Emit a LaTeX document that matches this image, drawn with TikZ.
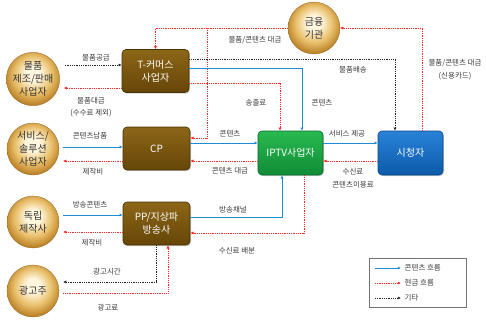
\documentclass[tikz,border=0pt]{standalone}
\usepackage{fontspec}
\setmainfont{Noto Sans CJK KR}
\usetikzlibrary{arrows.meta,shadows}
\definecolor{gin}{RGB}{255,246,222}
\definecolor{gmid}{RGB}{232,190,105}
\definecolor{gout}{RGB}{186,128,38}
\definecolor{grim}{RGB}{165,112,30}
\definecolor{brtop}{RGB}{140,102,24}
\definecolor{brbot}{RGB}{102,70,8}
\definecolor{brline}{RGB}{70,48,5}
\definecolor{grtop}{RGB}{40,185,80}
\definecolor{grbot}{RGB}{16,140,55}
\definecolor{grline}{RGB}{10,100,40}
\definecolor{bltop}{RGB}{40,130,215}
\definecolor{blbot}{RGB}{12,90,170}
\definecolor{blline}{RGB}{10,70,140}
\definecolor{cblue}{RGB}{30,140,210}
\definecolor{ltext}{RGB}{60,60,60}
\pgfdeclareradialshading{goldball}{\pgfpoint{0bp}{6bp}}{color(0bp)=(gin); color(7bp)=(gin); color(18bp)=(gmid); color(27bp)=(gout); color(31bp)=(grim); color(50bp)=(grim)}
\tikzset{
  ball/.style={circle, minimum size=#1, inner sep=0pt, shading=goldball, draw=gout!80!black, line width=0.3pt,
    text=black!80, align=center, font=\fontsize{10}{13}\selectfont},
  ball/.default=52pt,
  boxbase/.style={rectangle, rounded corners=4pt, minimum width=67pt, minimum height=43pt, text=white,
    align=center, font=\fontsize{10}{13}\selectfont, line width=0.6pt,
    drop shadow={opacity=0.35, shadow xshift=1pt, shadow yshift=-1.2pt}},
  brownbox/.style={boxbase, top color=brtop, bottom color=brbot, draw=brline},
  greenbox/.style={boxbase, minimum width=65pt, minimum height=44pt, top color=grtop, bottom color=grbot, draw=grline},
  bluebox/.style={boxbase, minimum width=65pt, minimum height=44pt, top color=bltop, bottom color=blbot, draw=blline},
  tip/.style={-{Latex[length=3.2pt,width=3.2pt]}},
  cash/.style={tip, draw=red!85!white, densely dotted, line width=0.8pt},
  cont/.style={tip, draw=cblue, line width=0.8pt},
  oth/.style={tip, draw=black!85, densely dotted, line width=0.8pt},
  lbl/.style={font=\fontsize{7.5}{9}\selectfont, text=ltext, inner sep=0.5pt, align=center},
}
\begin{document}
\begin{tikzpicture}[x=1pt,y=-1pt]
\useasboundingbox[fill=white] (0,0) rectangle (486,321);

% circles
\node[ball] (m) at (33,79) {물품\\제조/판매\\사업자};
\node[ball] (s) at (33,149) {서비스/\\솔루션\\사업자};
\node[ball] (d) at (33,222) {독립\\제작사};
\node[ball] (ad) at (33,291) {광고주};
\node[ball=52pt] (fin) at (314,28) {금융\\기관};

% boxes
\node[brownbox] (T) at (155.5,71) {T-커머스\\사업자};
\node[brownbox] (CP) at (156.5,148.5) {CP};
\node[brownbox] (PP) at (156.5,223.5) {PP/지상파\\방송사};
\node[greenbox] (I) at (290.5,153) {IPTV사업자};
\node[bluebox] (V) at (410.5,153) {시청자};

% left side flows
\draw[oth]  ([xshift=5pt]m.east |- 0,65) -- (T.west |- 0,65);
\draw[cash] (T.west |- 0,88) -- ([xshift=4pt]m.east |- 0,88);
\node[lbl] (l1) at (96,58) {물품공급};
\node[lbl] (l2) at (91,101) {물품대금};
\node[lbl] (l3) at (91,113) {(수수료 제외)};

\draw[cont] ([xshift=4pt]s.east |- 0,147) -- (CP.west |- 0,147);
\draw[cash] (CP.west |- 0,161) -- ([xshift=4pt]s.east |- 0,161);
\node[lbl] (l4) at (90,136) {콘텐츠납품};
\node[lbl] (l5) at (93,172) {제작비};

\draw[cont] ([xshift=4pt]d.east |- 0,215) -- (PP.west |- 0,215);
\draw[cash] (PP.west |- 0,232) -- ([xshift=4pt]d.east |- 0,232);
\node[lbl] (l6) at (90,205) {방송콘텐츠};
\node[lbl] (l7) at (92,243) {제작비};

\draw[oth]  ([xshift=-0.5pt]PP.south) |- ([xshift=4pt]ad.east |- 0,282);
\draw[cash] ([xshift=4pt]ad.east |- 0,293) -| ([xshift=11.5pt]PP.south);
\node[lbl] (l8) at (107,272) {광고시간};
\node[lbl] (l9) at (108,308) {광고료};

% top flows
\coordinate (br) at (207,28);
\draw[cash] (fin.west) -| (T.north);
\draw[cash] (br) |- (CP.east |- 0,138);
\node[lbl] (l10) at (255,40) {물품/콘텐츠 대금};

\draw[oth]  (T.east |- 0,59) -| ([xshift=-15.5pt]V.north);
\draw[cont] (T.east |- 0,68) -| ([xshift=11.5pt]I.north);
\draw[cash] (T.east |- 0,83) -| ([xshift=-10.5pt]I.north);
\node[lbl] (l11) at (353,70) {물품배송};
\node[lbl] (l12) at (322,103) {콘텐츠};
\node[lbl] (l13) at (256,103) {송출료};

\draw[cash] ([xshift=12pt]V.north) |- (fin.east);
\node[lbl] (l14) at (455,63) {물품/콘텐츠 대금};
\node[lbl] (l15) at (455,76) {(신용카드)};

% middle flows
\draw[cont] (CP.east |- 0,143) -- (I.west |- 0,143);
\draw[cash] (I.west |- 0,161) -- (CP.east |- 0,161);
\node[lbl] (l16) at (230,134) {콘텐츠};
\node[lbl] (l17) at (230,171) {콘텐츠 대금};

\draw[cont] (I.east |- 0,143) -- (V.west |- 0,143);
\draw[cash] (V.west |- 0,161) -- (I.east |- 0,161);
\node[lbl] (l18) at (347,134) {서비스 제공};
\node[lbl] (l19) at (353,172) {수신료};
\node[lbl] (l20) at (353,185) {콘텐츠이용료};

% bottom flows
\draw[cont] (PP.east |- 0,217) -| ([xshift=-8.5pt]I.south);
\draw[cash] ([xshift=13.5pt]I.south) |- (PP.east |- 0,233);
\node[lbl] (l21) at (233,210) {방송채널};
\node[lbl] (l22) at (237,251) {수신료 배분};

% legend
\node[draw=black!55, line width=0.6pt, minimum width=97pt, minimum height=49pt, inner sep=0pt] (leg) at (417.5,282.5) {};
\coordinate (a1) at (375,268); \coordinate (b1) at (401,268);
\coordinate (a2) at (375,283); \coordinate (b2) at (401,283);
\coordinate (a3) at (375,298); \coordinate (b3) at (401,298);
\draw[cont] (a1) -- (b1);
\draw[cash] (a2) -- (b2);
\draw[oth] (a3) -- (b3);
\node[lbl, anchor=west] (k1) at (404,268) {콘텐츠 흐름};
\node[lbl, anchor=west] (k2) at (404,283) {현금 흐름};
\node[lbl, anchor=west] (k3) at (404,298) {기타};
\end{tikzpicture}
\end{document}
